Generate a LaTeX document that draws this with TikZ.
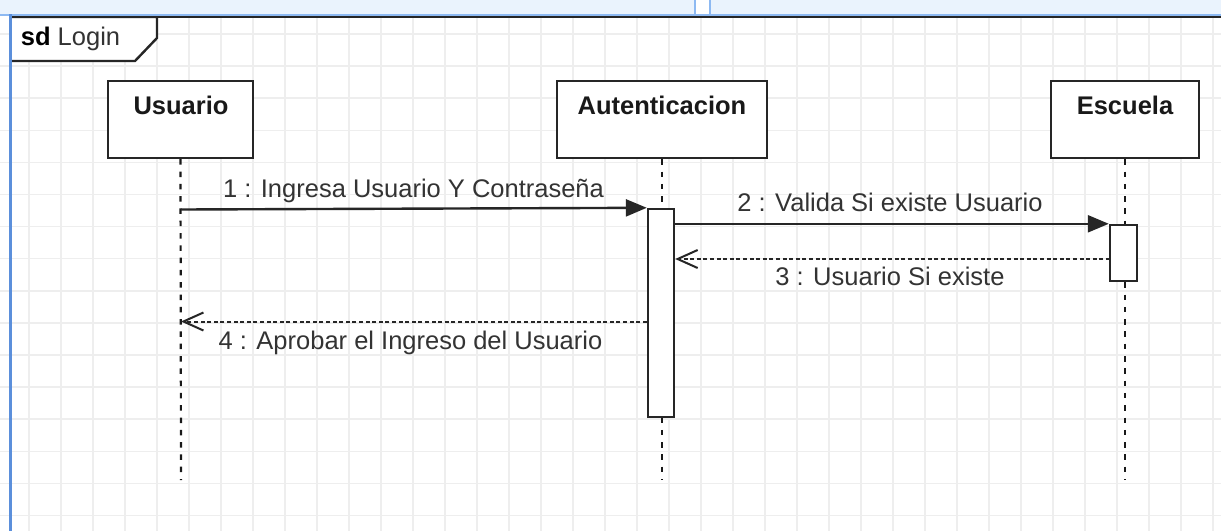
\documentclass[tikz,border=0pt]{standalone}
\usepackage{fontspec}
\setmainfont{Liberation Sans}
\usetikzlibrary{arrows.meta,calc}
\definecolor{linea}{HTML}{262626}
\definecolor{letra}{HTML}{333333}
\definecolor{grilla}{HTML}{EEEEEE}
\definecolor{banda}{HTML}{EAF3FD}
\definecolor{azul}{HTML}{5B8FDB}
\definecolor{azulclaro}{HTML}{8DB9F2}
\tikzset{
  caja/.style={draw=linea,line width=2.4pt,fill=white,inner sep=0pt},
  activa/.style={draw=linea,line width=2.4pt,fill=white,inner sep=0pt},
  vida/.style={draw=black!90,line width=2.2pt,dash pattern=on 5.5pt off 6.8pt},
  llamada/.style={draw=linea,line width=2.4pt,-{Triangle[length=21pt,width=17pt]}},
  respuesta/.style={draw=linea,line width=2pt,dash pattern=on 4pt off 2.6pt,-{Straight Barb[length=20pt,width=18pt]}},
  texto/.style={font=\fontsize{25.5}{30}\selectfont,text=letra,inner sep=0pt,anchor=base},
  titulo/.style={texto,font=\fontsize{25.5}{30}\selectfont\bfseries,text=black!90}
}
\begin{document}
\begin{tikzpicture}[x=1pt,y=-1pt]
\useasboundingbox (0,0) rectangle (1221,531);
\fill[white] (0,0) rectangle (1221,531);
    %Grilla
    \foreach \i in {0,...,37}{
        \draw[grilla,line width=1.5pt] ({29+32*\i},15) -- ({29+32*\i},531);
    }
    \foreach \j in {0,...,15}{
        \draw[grilla,line width=1.5pt] (0,{34+32.1*\j}) -- (1221,{34+32.1*\j});
    }

    %Marco sd
    \draw[linea,line width=2.4pt] (10,17) -- (1221,17);
    \draw[linea,line width=2.4pt,fill=white] (11,17) -- (157,17) -- (157,38) -- (135,61) -- (11,61);
    \node[texto,anchor=base west] (marco) at (20.7,45.7) {\textbf{\color{black}sd} Login};

    %Banda superior
    \fill[banda] (0,0) rectangle (1221,14);
    \draw[azulclaro,line width=2pt] (0,15) -- (1221,15);
    \draw[azulclaro,line width=1.5pt,fill=white] (695,-1) rectangle (710,15);
    \draw[azul,line width=3pt] (10,14) -- (10,531);

    %Participantes
    \node[caja,minimum width=145pt,minimum height=77pt] (usuario) at (180.5,119.5) {};
    \node[caja,minimum width=210pt,minimum height=77pt] (autent) at (662,119.5) {};
    \node[caja,minimum width=148pt,minimum height=77pt] (escuela) at (1125,119.5) {};
    \node[titulo] (tUsuario) at (181,114.3) {Usuario};
    \node[titulo] (tAutent) at (662,114.3) {Autenticacion};
    \node[titulo] (tEscuela) at (1125,114.3) {Escuela};

    %Lineas de vida
    \coordinate (finU) at (181,480);
    \coordinate (finA) at (662,480);
    \coordinate (finE) at (1125,480);
    \draw[vida] (usuario.south) -- (finU);
    \draw[vida] (autent.south) -- (finA);
    \draw[vida] (escuela.south) -- (finE);

    %Activaciones
    \node[activa,minimum width=26pt,minimum height=208pt] (act1) at (661,313) {};
    \node[activa,minimum width=27pt,minimum height=56pt] (act2) at (1123.5,253) {};

    %Mensajes
    \coordinate (m1) at (181,209.5);
    \coordinate (r3) at (1110,259);
    \coordinate (r4) at (181,321.5);
    \draw[llamada] (m1) -- (act1.north west);
    \draw[llamada] (act1.east |- act2.north) -- (act2.north west);
    \draw[respuesta] (r3) -- (act1.east |- r3);
    \draw[respuesta] (act1.west |- r4) -- (r4);

    \node[texto] (lbl1) at (413.5,197) {1 : Ingresa Usuario Y Contraseña};
    \node[texto] (lbl2) at (890,211.7) {2 : Valida Si existe Usuario};
    \node[texto] (lbl3) at (890,285.7) {3 : Usuario Si existe};
    \node[texto] (lbl4) at (410.5,349.3) {4 : Aprobar el Ingreso del Usuario};
\end{tikzpicture}
\end{document}
